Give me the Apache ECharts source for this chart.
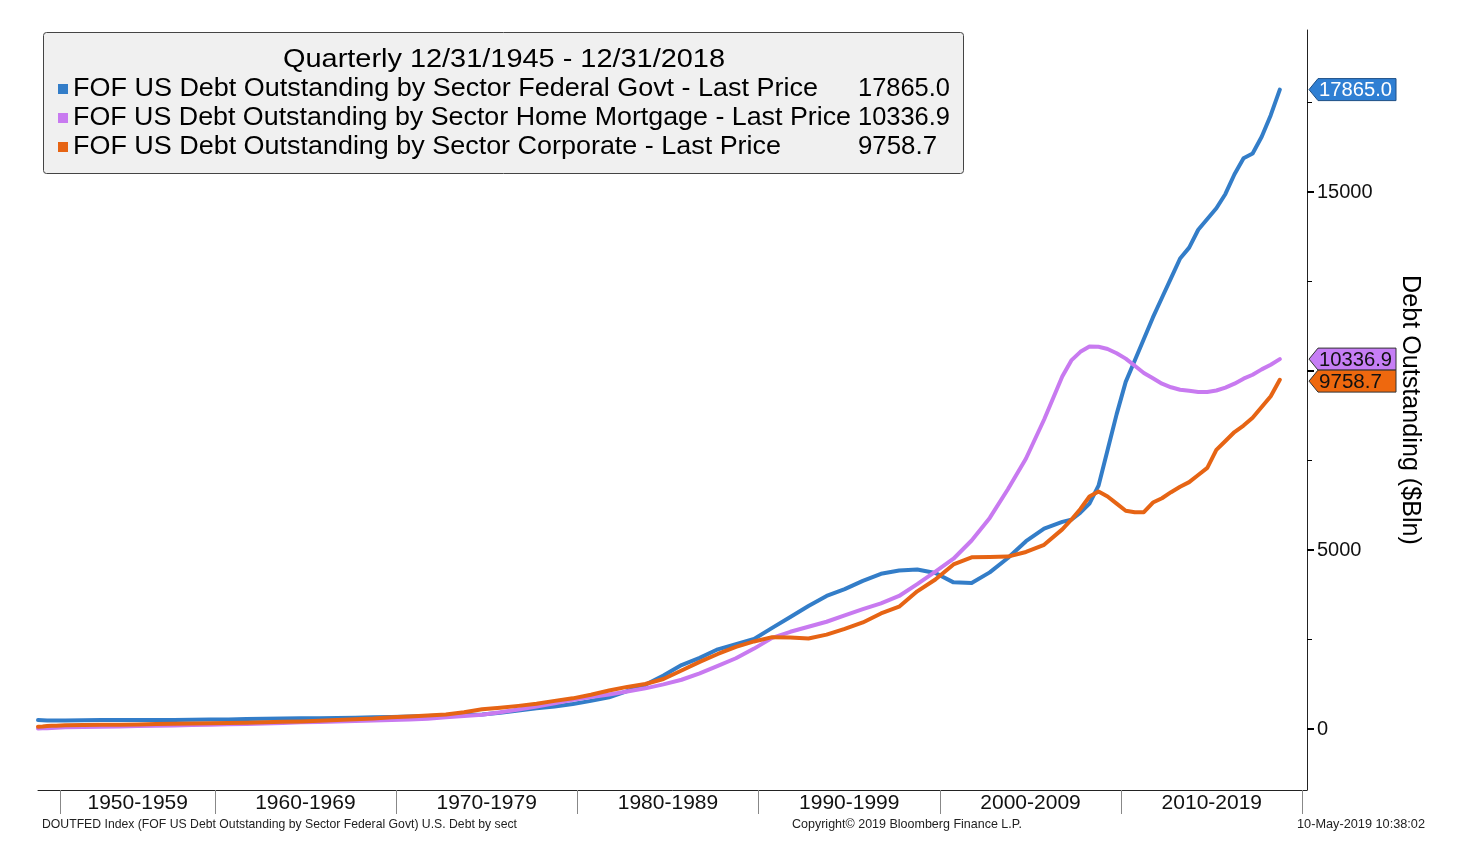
<!DOCTYPE html>
<html><head><meta charset="utf-8">
<script src="https://cdn.jsdelivr.net/npm/echarts@6/dist/echarts.min.js"></script>
<style>html,body{margin:0;padding:0;background:#fff}#c{width:1458px;height:849px}</style>
</head><body><div id="c"></div>
<script>
// ---------------- DATA (year-end values, $Bln) ----------------
const years = [1945,1946,1947,1948,1949,1950,1951,1952,1953,1954,1955,1956,1957,1958,1959,
  1960,1961,1962,1963,1964,1965,1966,1967,1968,1969,1970,1971,1972,1973,1974,1975,1976,1977,1978,1979,
  1980,1981,1982,1983,1984,1985,1986,1987,1988,1989,1990,1991,1992,1993,1994,1995,1996,1997,1998,1999,
  2000,2001,2002,2003,2004,2005,2006,2007,2008,2009,2010,2011,2012,2013,2014,2015,2016,2017,2018];
const federalGovt = [252,246,241,238,240,241,243, 248,254,258,257,253,254,265,272,
  268,280,290,298,305,307,310,320,335,338, 350,368,382,392,410,455,520,580,635,700,
  790,890,1060,1240,1500,1790,1990,2230,2370,2520, 2830,3130,3440,3720,3910,4140,4340,4430,4460,4360,
  4100,4080,4380,4780,5250,5600,5790,6050,6800,8800, 10300,11500,12600,13450,14250,14950,15950,16550,17865.0];
const homeMortgage = [19,23,28,33,37,44,50, 57,64,73,85,95,103,113,125,
  135,147,160,175,190,203,214,226,240,255, 267,290,330,365,400,470,550,630,720,820,
  900,970,1050,1140,1250,1380,1560,1770,1980,2250, 2550,2720,2860,3000,3180,3350,3511,3720,4050,4400,
  4760,5270,5900,6700,7560,8650,9850,10540,10680,10500, 10150,9800,9550,9450,9420,9540,9790,10050,10336.9];
const corporate = [70,76,85,93,96,104,112, 118,122,125,133,142,150,156,165,
  172,181,192,204,216,234,254,276,298,335, 355,378,410,470,555,600,650,710,790,860,
  960,1080,1180,1260,1400,1640,1880,2100,2300,2450, 2570,2560,2530,2640,2800,2980,3232,3420,3850,4180,
  4600,4800,4810,4820,4950,5150,5580,6150,6640,6300, 6060,6330,6620,6900,7300,8050,8480,9000,9758.7];
// mid-year (Q2) values for the recent period
const midYears = [2007,2008,2009,2010,2011,2012,2013,2014,2015,2016,2017,2018];
const federalGovtMid = [5850,6300,7800,9700,10900,12050,13148,13950,14550,15500,16080,17150];
const homeMortgageMid = [10300,10690,10620,10350,9950,9650,9480,9420,9460,9650,9900,10180];
const corporateMid = [5850,6500,6500,6100,6060,6450,6770,7100,7800,8300,8700,9300];

const seriesNames = [
  'FOF US Debt Outstanding by Sector Federal Govt - Last Price',
  'FOF US Debt Outstanding by Sector Home Mortgage - Last Price',
  'FOF US Debt Outstanding by Sector Corporate - Last Price'];
const lastPrices = ['17865.0','10336.9','9758.7'];
const decadeStarts = [1950,1960,1970,1980,1990,2000,2010,2020];
const decadeLabels = ['1950-1959','1960-1969','1970-1979','1980-1989','1990-1999','2000-2009','2010-2019'];
const yTickValues = [0,5000,10000,15000];
const yMinorTickValues = [2500,7500,12500,17500];
const yLabelValues = [0,5000,15000];
const titleText = 'Quarterly 12/31/1945 - 12/31/2018';
const axisTitle = 'Debt Outstanding ($Bln)';
const footLeft = 'DOUTFED Index (FOF US Debt Outstanding by Sector Federal Govt) U.S. Debt by sect';
const footMid = 'Copyright\u00a9 2019 Bloomberg Finance L.P.';
const footRight = '10-May-2019 10:38:02';

// ---------------- helpers ----------------
// point index: annual points 1945..1951, quarterly from 1952Q1
const idxYearEnd = y => y <= 1951 ? y - 1945 : 4 * y - 7798;
const idxYearQ2 = y => 4 * y - 7800;
const idxYearStart = y => y <= 1951 ? y - 1945 : 4 * y - 7801;
const tickIdx = decadeStarts.map(idxYearStart);
const labelIdx = decadeLabels.map((_, i) => (tickIdx[i] + tickIdx[i + 1]) / 2);
const labelMap = {}; labelIdx.forEach((v, i) => labelMap[v] = decadeLabels[i]);
const toPairs = (arr, mid) => years.map((y, i) => [idxYearEnd(y), arr[i]])
  .concat(midYears.map((y, i) => [idxYearQ2(y), mid[i]]))
  .sort((a, b) => a[0] - b[0]);

const FONT = 'Liberation Sans';
const colors = ['#337dc8', '#c87af0', '#e66414'];
const tagFill = ['#2f7fd3', '#c67ef5', '#ee680e'];
const tagText = ['#ffffff', '#111111', '#111111'];
const tagStroke = ['#1d4f86', '#333333', '#333333'];

const mctx = document.createElement('canvas').getContext('2d');
function fit(text, size, width) { mctx.font = size + 'px "' + FONT + '"'; return width / mctx.measureText(text).width; }
function txt(text, x, y, size, width, fill, extra) {
  return Object.assign({
    type: 'text', x: x, y: y, silent: true, z: 100,
    scaleX: width ? fit(text, size, width) : 1,
    style: { text: text, font: size + 'px "' + FONT + '"', fill: fill || '#000', align: 'left', verticalAlign: 'middle' }
  }, extra || {});
}

const chart = echarts.init(document.getElementById('c'));
const YMIN = -1700, YMAX = 19530;
chart.setOption({
  animation: false,
  backgroundColor: '#ffffff',
  grid: { left: 38, right: 151, top: 30, bottom: 59, containLabel: false },
  xAxis: {
    type: 'value', min: 0, max: 280,
    axisLine: { show: true, onZero: false, lineStyle: { color: '#222', width: 1 } },
    axisTick: { show: true, customValues: tickIdx, length: 24, lineStyle: { color: '#888', width: 1 } },
    axisLabel: { show: true, customValues: labelIdx, formatter: v => labelMap[v] || '', fontFamily: FONT, fontSize: 21, color: '#111', margin: 3 },
    splitLine: { show: false }
  },
  yAxis: [{
    type: 'value', position: 'right', min: YMIN, max: YMAX,
    axisLine: { show: true, onZero: false, lineStyle: { color: '#222', width: 1 } },
    axisTick: { show: true, customValues: yTickValues, length: 7, lineStyle: { color: '#000', width: 2 } },
    axisLabel: { show: true, customValues: yLabelValues, formatter: v => String(v), fontFamily: FONT, fontSize: 20, color: '#111', margin: 10 },
    splitLine: { show: false }
  }, {
    type: 'value', position: 'right', min: YMIN, max: YMAX,
    axisLine: { show: false, onZero: false },
    axisTick: { show: true, customValues: yMinorTickValues, length: 5, lineStyle: { color: '#000', width: 1 } },
    axisLabel: { show: false },
    splitLine: { show: false }
  }],
  series: [[federalGovt, federalGovtMid], [homeMortgage, homeMortgageMid], [corporate, corporateMid]].map((p, i) => ({
    name: seriesNames[i], type: 'line', data: toPairs(p[0], p[1]), yAxisIndex: 0,
    showSymbol: false, symbol: 'none', smooth: false,
    lineStyle: { color: colors[i], width: 4, join: 'round', cap: 'round' },
    z: 2 + i
  }))
});

// ---------------- graphic: legend box, tags, titles ----------------
const g = [];
g.push({ type: 'rect', silent: true, z: 90, shape: { x: 43.5, y: 32.5, width: 920, height: 141, r: 3 },
  style: { fill: '#f0f0f0', stroke: '#444', lineWidth: 1 } });
g.push(txt(titleText, 283, 60, 26, 442, '#000'));
const rowY = [89, 118, 147];
const rowW = [745, 778, 708];
seriesNames.forEach((n, i) => {
  g.push({ type: 'rect', silent: true, z: 100, shape: { x: 58, y: rowY[i] - 5, width: 10, height: 10 }, style: { fill: colors[i] } });
  g.push(txt(n, 73, rowY[i], 26, rowW[i], '#000'));
  g.push(txt(lastPrices[i], 858, rowY[i], 26, i === 2 ? 79 : 92, '#000'));
});

// value tags on the right axis
const tagVals = lastPrices.map(Number);
let tags = tagVals.map((v, i) => ({ i: i, y: chart.convertToPixel({ yAxisIndex: 0 }, v) })).sort((a, b) => a.y - b.y);
for (let k = 1; k < tags.length; k++) if (tags[k].y < tags[k - 1].y + 22) tags[k].y = tags[k - 1].y + 22;
const axX = chart.convertToPixel({ xAxisIndex: 0 }, 280);
tags.forEach(t => {
  const y = t.y, h = 11;
  g.push({ type: 'polygon', silent: true, z: 100,
    shape: { points: [[axX + 2, y], [axX + 11, y - h], [axX + 89, y - h], [axX + 89, y + h], [axX + 11, y + h]] },
    style: { fill: tagFill[t.i], stroke: tagStroke[t.i], lineWidth: 1 } });
  g.push(txt(lastPrices[t.i], axX + 12, y + 1, 20, lastPrices[t.i].length === 7 ? 73 : 63, tagText[t.i], { z: 101 }));
});

// rotated axis title
g.push({ type: 'text', x: 1410, y: 410, rotation: -Math.PI / 2, silent: true, z: 100,
  scaleX: fit(axisTitle, 25, 270),
  style: { text: axisTitle, font: '25px "' + FONT + '"', fill: '#000', align: 'center', verticalAlign: 'middle' } });

// footers
g.push(txt(footLeft, 42, 824, 13, 475, '#222'));
g.push(txt(footMid, 792, 824, 13, 230, '#222'));
g.push(txt(footRight, 1297, 824, 13, 128, '#222'));

chart.setOption({ graphic: { elements: g } });
</script></body></html>
